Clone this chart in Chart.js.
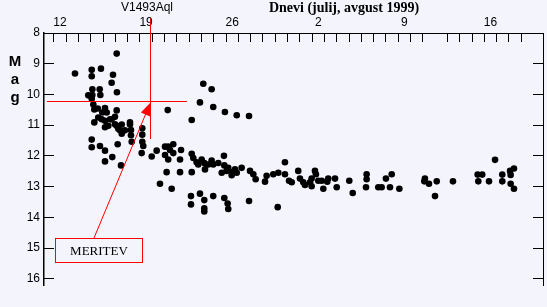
<!DOCTYPE html>
<html>
<head>
<meta charset="utf-8">
<script src="https://cdn.jsdelivr.net/npm/chart.js@4.4.1/dist/chart.umd.min.js"></script>
<style>
  html, body { margin: 0; padding: 0; background: #f4f4fc; }
</style>
</head>
<body>
<canvas id="c" width="547" height="307"></canvas>
<script>
/* V1493 Aql — meritve sija, julij/avgust 1999 */

// dnevi (julij; avgust = 31 + dan)
const DAYS = [
  16.61, 13.22, 14.58, 15.33, 14.58, 16.31, 16.20, 14.63, 15.23, 16.63,
  14.63, 15.28, 14.30, 14.58, 20.76, 14.71, 14.79, 15.07, 15.66, 15.44,
  15.80, 16.61, 15.11, 14.79, 15.66, 16.20, 16.47, 15.93, 16.61, 17.02,
  16.88, 17.28, 17.69, 17.77, 18.69, 18.69,
  15.39, 16.07, 15.66, 16.47, 16.74, 17.02, 17.69, 17.77, 17.83, 18.69,
  18.77, 14.58, 14.58, 15.25, 15.66, 16.69, 18.64, 15.66, 16.25, 16.96,
  19.46, 19.86, 20.54, 20.94, 21.21, 20.80, 20.54, 20.67, 20.13, 21.08,
  23.65, 24.33, 23.38, 24.46, 25.41, 26.37, 27.37, 22.71, 21.21, 20.80,
  21.84, 22.71, 22.84, 23.11, 23.52, 23.73, 23.24, 24.33, 24.46, 24.87,
  24.06, 25.33, 25.36, 25.68, 25.96, 25.55, 25.15, 26.23, 26.77, 26.37,
  25.96, 27.45, 27.72, 27.91, 28.67, 28.80, 29.34, 29.75, 30.29, 30.29,
  30.62, 30.84, 21.76, 21.76, 22.71, 23.79,
  22.65, 22.65, 23.38, 23.73, 23.73, 23.73, 24.46, 25.36, 25.63, 25.68,
  27.37, 29.70,
  31.37, 31.51, 31.78, 31.92, 32.73, 32.81, 32.46, 32.33, 32.46, 33.00,
  33.28, 33.41, 33.81, 33.73, 34.36, 34.50, 35.52, 35.80, 36.93, 36.93,
  36.88, 37.88, 38.15, 38.50, 38.97, 38.83, 39.59,
  41.67, 41.62, 42.00, 42.63, 42.49, 43.95, 47.37, 45.96, 46.33, 46.01,
  46.88, 47.96, 47.96, 48.59, 48.91, 48.64, 48.64, 48.91
];

// magnituda
const MAGS = [
  8.67, 9.32, 9.20, 9.16, 9.41, 9.36, 9.62, 9.83, 9.83, 9.93,
  10.02, 10.02, 10.03, 10.14, 10.51, 10.33, 10.49, 10.46, 10.44, 10.59,
  10.59, 10.52, 10.75, 10.91, 10.86, 10.81, 10.73, 11.02, 11.02, 10.98,
  11.17, 11.17, 10.98, 11.16, 11.10, 11.31,
  10.81, 10.81, 11.07, 10.97, 11.12, 11.28, 10.91, 11.33, 11.54, 11.54,
  11.68, 11.47, 11.72, 11.68, 11.83, 11.62, 11.91, 12.18, 12.04, 12.31,
  12.02, 11.83, 11.70, 11.81, 11.91, 12.12, 11.97, 12.53, 12.91, 13.07,
  9.65, 9.83, 10.26, 10.41, 10.57, 10.68, 10.70, 10.83, 11.62, 11.70,
  11.81, 11.93, 12.07, 12.21, 12.12, 12.23, 12.28, 12.15, 12.28, 12.23,
  12.28, 12.00, 12.31, 12.39, 12.53, 12.49, 12.55, 12.44, 12.39, 12.55,
  12.63, 12.49, 12.60, 12.76, 12.84, 12.65, 12.60, 12.55, 12.21, 12.60,
  12.81, 12.86, 12.12, 12.53, 12.53, 12.44,
  13.31, 13.58, 13.23, 13.44, 13.81, 13.71, 13.31, 13.37, 13.55, 13.73,
  13.47, 13.67,
  12.49, 12.74, 12.86, 12.95, 12.49, 12.60, 12.74, 12.86, 12.99, 12.81,
  12.81, 13.07, 12.74, 12.84, 12.74, 13.02, 12.81, 13.21, 12.60, 12.76,
  13.02, 13.02, 13.02, 12.74, 12.60, 13.02, 13.07,
  12.74, 12.83, 12.91, 12.83, 13.31, 12.83, 12.13, 12.61, 12.61, 12.83,
  12.83, 12.61, 12.83, 12.49, 12.41, 12.62, 12.91, 13.07
];

const X_LABEL_DAYS = [12, 19, 26, 33, 40, 47];
const X_MINOR_TICKS = [11.5, 12.5, 13.5, 14.5, 15.5, 16.5, 17.5, 18.5, 19.5, 20.5,
  21.5, 22.5, 23.5, 24.5, 25.5, 26.5, 27.5, 28.5, 29.5, 30.5, 31.5, 32.5, 33.5,
  34.5, 35.5, 36.5, 37.5, 38.5, 39.5, 40.5, 41.5, 43.5, 44.5, 45.5, 46.5, 47.5,
  48.5, 49.5];
const Y_TICKS = [8, 9, 10, 11, 12, 13, 14, 15, 16];

// oznaka: križ na točki meritve in okvir z napisom
const CROSS = { day: 19.32, mag: 10.22, dayFrom: 10.94, dayTo: 22.33, magFrom: 7.53, magTo: 11.45 };
const BOX = { day1: 11.59, day2: 18.67, mag1: 14.68, mag2: 15.44, text: 'MERITEV' };
const ARROW_FROM = { day: 14.76, mag: 14.68 };

const BG = '#f4f4fc';
const RED = '#ff0000';
const FONT = '"Liberation Sans", Arial, sans-serif';

const xTicks = X_LABEL_DAYS.concat(X_MINOR_TICKS).sort((a, b) => a - b);

const decor = {
  id: 'decor',
  beforeDraw(chart) {
    const ctx = chart.ctx;
    ctx.save();
    ctx.fillStyle = BG;
    ctx.fillRect(0, 0, chart.width, chart.height);
    ctx.restore();
  },
  afterDraw(chart) {
    const ctx = chart.ctx, xs = chart.scales.x, ys = chart.scales.y;
    const px = v => xs.getPixelForValue(v);
    const py = v => ys.getPixelForValue(v);

    ctx.save();
    // naslova
    ctx.fillStyle = '#000';
    ctx.textBaseline = 'middle';
    ctx.textAlign = 'center';
    ctx.font = '12px ' + FONT;
    ctx.fillText('V1493Aql', 147, 8);
    ctx.font = 'bold 14px "Liberation Serif", "Times New Roman", serif';
    ctx.fillText('Dnevi (julij, avgust 1999)', 344, 8);

    // Mag
    ctx.font = 'bold 15px ' + FONT;
    ctx.fillText('M', 15, 62);
    ctx.fillText('a', 15, 80);
    ctx.fillText('g', 15, 98);

    // križ
    ctx.strokeStyle = RED;
    ctx.lineWidth = 1;
    ctx.beginPath();
    const cx = Math.round(px(CROSS.day)) + 0.5;
    const cy = Math.round(py(CROSS.mag)) + 0.5;
    ctx.moveTo(cx, py(CROSS.magFrom));
    ctx.lineTo(cx, py(CROSS.magTo));
    ctx.moveTo(px(CROSS.dayFrom), cy);
    ctx.lineTo(px(CROSS.dayTo), cy);
    ctx.stroke();

    // puščica
    const x0 = px(ARROW_FROM.day), y0 = py(ARROW_FROM.mag);
    const x1 = cx, y1 = cy + 1;
    const ang = Math.atan2(y1 - y0, x1 - x0);
    ctx.beginPath();
    ctx.moveTo(x0, y0);
    ctx.lineTo(x1 - 10 * Math.cos(ang), y1 - 10 * Math.sin(ang));
    ctx.stroke();
    ctx.fillStyle = RED;
    ctx.beginPath();
    ctx.moveTo(x1, y1);
    ctx.lineTo(x1 - 13 * Math.cos(ang) + 5 * Math.sin(ang), y1 - 13 * Math.sin(ang) - 5 * Math.cos(ang));
    ctx.lineTo(x1 - 13 * Math.cos(ang) - 5 * Math.sin(ang), y1 - 13 * Math.sin(ang) + 5 * Math.cos(ang));
    ctx.closePath();
    ctx.fill();

    // okvir MERITEV
    const bx1 = Math.round(px(BOX.day1)) + 0.5, bx2 = Math.round(px(BOX.day2)) + 0.5;
    const by1 = Math.round(py(BOX.mag1)) + 0.5, by2 = Math.round(py(BOX.mag2)) + 0.5;
    ctx.fillStyle = BG;
    ctx.fillRect(bx1, by1, bx2 - bx1, by2 - by1);
    ctx.strokeRect(bx1, by1, bx2 - bx1, by2 - by1);
    ctx.fillStyle = '#000';
    ctx.font = '13px "Liberation Serif", "Times New Roman", serif';
    ctx.fillText(BOX.text, (bx1 + bx2) / 2, (by1 + by2) / 2 + 1);
    ctx.restore();
  }
};

new Chart(document.getElementById('c'), {
  type: 'scatter',
  data: {
    datasets: [{
      data: DAYS.map((d, i) => ({ x: d, y: MAGS[i] })),
      backgroundColor: '#000',
      pointRadius: 3.3,
      borderWidth: 0
    }]
  },
  options: {
    responsive: false,
    animation: false,
    events: [],
    layout: { padding: { right: 0, bottom: 14 } },
    plugins: { legend: { display: false }, tooltip: { enabled: false } },
    scales: {
      x: {
        type: 'linear',
        position: 'top',
        min: 10.7,
        max: 51.27,
        // oznake dni so kratke črtice navznoter (negativna dolžina)
        grid: {
          display: true,
          drawOnChartArea: false,
          drawTicks: true,
          tickLength: -9,
          color: c => (c.tick && X_LABEL_DAYS.includes(c.tick.value)) ? 'rgba(0,0,0,0)' : '#000'
        },
        border: { display: true, color: '#000', width: 1 },
        ticks: {
          autoSkip: false,
          maxRotation: 0,
          padding: 12,
          color: '#000',
          font: { family: FONT, size: 12 },
          callback: v => X_LABEL_DAYS.includes(v) ? (v > 31 ? v - 31 : v) : ''
        },
        afterBuildTicks: s => { s.ticks = xTicks.map(v => ({ value: v })); },
        afterFit: s => { s.height = 33; }
      },
      y: {
        reverse: true,
        min: 8,
        max: 16.23,
        grid: { display: true, drawOnChartArea: false, drawTicks: true, tickLength: -10, color: '#000' },
        border: { display: true, color: '#000', width: 1.5 },
        ticks: {
          padding: 14,
          color: '#000',
          font: { family: FONT, size: 12 }
        },
        afterBuildTicks: s => { s.ticks = Y_TICKS.map(v => ({ value: v })); },
        afterFit: s => { s.width = 44; }
      },
      y2: {
        position: 'right',
        reverse: true,
        min: 8,
        max: 16.23,
        grid: { display: true, drawOnChartArea: false, drawTicks: true, tickLength: -10, color: '#000' },
        border: { display: true, color: '#000', width: 1 },
        ticks: { callback: () => '' },
        afterBuildTicks: s => { s.ticks = Y_TICKS.map(v => ({ value: v })); },
        afterFit: s => { s.width = 4; }
      }
    }
  },
  plugins: [decor]
});
</script>
</body>
</html>
